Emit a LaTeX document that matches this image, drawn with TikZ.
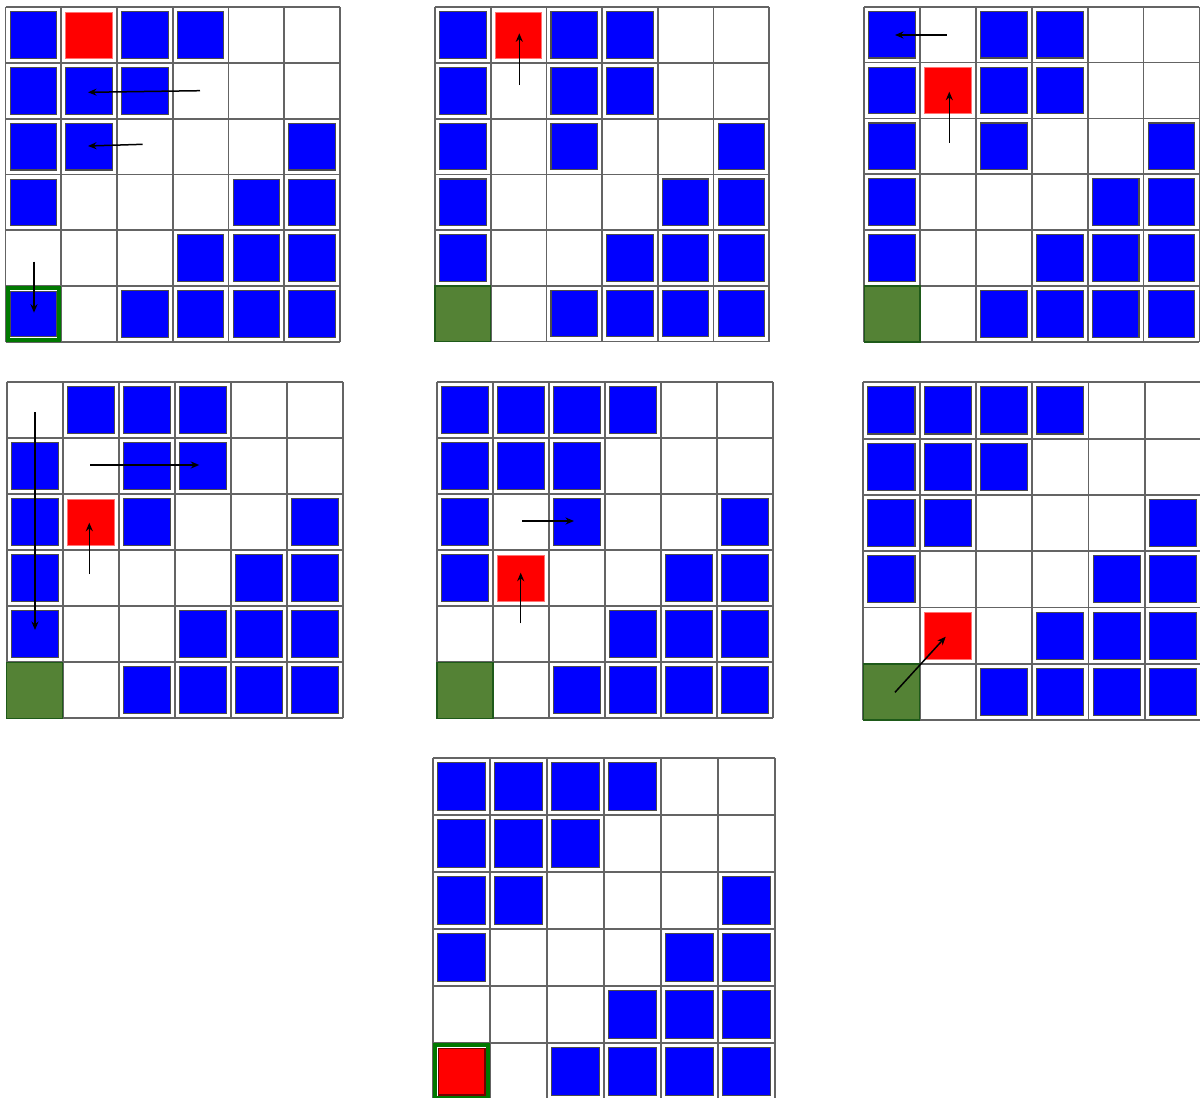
\documentclass[tikz,border=0pt]{standalone}
\usetikzlibrary{arrows.meta}
\definecolor{sqblue}{RGB}{0,0,255}
\definecolor{goalfill}{RGB}{84,130,53}
\definecolor{goaledge}{RGB}{30,90,25}
\definecolor{ringgreen}{RGB}{0,120,0}
\definecolor{gridc}{RGB}{100,100,100}
\newcommand{\cellsz}{56}
\newcommand{\insz}{4.6}
\tikzset{
  x=1pt, y=-1pt,
  gridline/.style={draw=gridc, line width=1.8pt},
  bluesq/.style={fill=sqblue, draw=black!70, line width=1.1pt},
  redsq/.style={fill=red, draw=red!55!white, line width=0.8pt},
  redsqdark/.style={fill=red, draw=black!55!red, line width=1.2pt},
  goalcell/.style={fill=goalfill, draw=goaledge, line width=1.4pt},
  goalring/.style={draw=ringgreen, line width=4pt},
  arr/.style={draw=black, line width=1.5pt, -{Stealth[length=8.5pt,width=7pt]}},
  pics/cellB/.style={code={\path[bluesq] (\insz,\insz) rectangle (\cellsz-\insz,\cellsz-\insz);}},
  pics/cellR/.style={code={\path[redsq] (\insz,\insz) rectangle (\cellsz-\insz,\cellsz-\insz);}},
  pics/cellW/.style={code={}},
  pics/cellG/.style={code={\path[goalcell] (0,0) rectangle (\cellsz,\cellsz);}},
  pics/cellX/.style={code={\path[goalring] (2,2) rectangle (\cellsz-2,\cellsz-2);
      \path[bluesq] (5.2,5.2) rectangle (\cellsz-5.2,\cellsz-5.2);}},
  pics/cellY/.style={code={\path[goalring] (2,2) rectangle (\cellsz-2,\cellsz-2);
      \path[redsqdark] (5.4,5.4) rectangle (\cellsz-5.4,\cellsz-5.4);}},
}
\newcommand{\gridpanel}[4]{%
  \begin{scope}[shift={(#1,#2)}]
    \renewcommand{\cellsz}{#3}%
    \foreach \i in {0,...,6} {
      \draw[gridline] (\i*\cellsz,0) -- (\i*\cellsz,6*\cellsz);
      \draw[gridline] (0,\i*\cellsz) -- (6*\cellsz,\i*\cellsz);
    }
    \foreach \rowdata [count=\r from 0] in {#4} {
      \foreach \c [count=\k from 0] in \rowdata {
        \pic at (\k*\cellsz,\r*\cellsz) {cell\c};
      }
    }
  \end{scope}}
\begin{document}
\begin{tikzpicture}
\fill[white] (0,0) rectangle (1200,1098);
\useasboundingbox (0,0) rectangle (1200,1098);

% panel 1
\gridpanel{5.5}{7.3}{55.75}{{B,R,B,B,W,W},{B,B,B,W,W,W},{B,B,W,W,W,B},{B,W,W,W,B,B},{W,W,W,B,B,B},{X,W,B,B,B,B}}
% panel 2
\gridpanel{435}{7.3}{55.7}{{B,R,B,B,W,W},{B,W,B,B,W,W},{B,W,B,W,W,B},{B,W,W,W,B,B},{B,W,W,B,B,B},{G,W,B,B,B,B}}
% panel 3
\gridpanel{864.3}{6.7}{55.85}{{B,W,B,B,W,W},{B,R,B,B,W,W},{B,W,B,W,W,B},{B,W,W,W,B,B},{B,W,W,B,B,B},{G,W,B,B,B,B}}
% panel 4
\gridpanel{6.7}{382.3}{56}{{W,B,B,B,W,W},{B,W,B,B,W,W},{B,R,B,W,W,B},{B,W,W,W,B,B},{B,W,W,B,B,B},{G,W,B,B,B,B}}
% panel 5
\gridpanel{437}{382.3}{56}{{B,B,B,B,W,W},{B,B,B,W,W,W},{B,W,B,W,W,B},{B,R,W,W,B,B},{W,W,W,B,B,B},{G,W,B,B,B,B}}
% panel 6
\gridpanel{863.3}{382.3}{56.3}{{B,B,B,B,W,W},{B,B,B,W,W,W},{B,B,W,W,W,B},{B,W,W,W,B,B},{W,R,W,B,B,B},{G,W,B,B,B,B}}
% panel 7
\gridpanel{433.3}{758.3}{57}{{B,B,B,B,W,W},{B,B,B,W,W,W},{B,B,W,W,W,B},{B,W,W,W,B,B},{W,W,W,B,B,B},{Y,W,B,B,B,B}}

% arrow end points
\coordinate (a1s) at (200,90.7);   \coordinate (a1e) at (88,92.3);
\coordinate (a2s) at (142.7,144.3); \coordinate (a2e) at (88,146);
\coordinate (a3s) at (34,261.7);   \coordinate (a3e) at (34,312.7);
\coordinate (b1s) at (519.3,85);   \coordinate (b1e) at (519.3,33.3);
\coordinate (c1s) at (946.7,35);   \coordinate (c1e) at (895,35);
\coordinate (c2s) at (949.3,142.7); \coordinate (c2e) at (949.3,91.7);
\coordinate (d1s) at (35,412.3);   \coordinate (d1e) at (35,630);
\coordinate (d2s) at (90,465);     \coordinate (d2e) at (199.3,465);
\coordinate (d3s) at (89.3,574);   \coordinate (d3e) at (89.3,522.7);
\coordinate (e1s) at (522.3,521);  \coordinate (e1e) at (574,521);
\coordinate (e2s) at (520.7,623.3); \coordinate (e2e) at (520.7,572.7);
\coordinate (f1s) at (895,692.3);  \coordinate (f1e) at (945.7,636.7);

\foreach \a in {a1,a2,a3,b1,c1,c2,d1,d2,d3,e1,e2,f1}
  \draw[arr] (\a s) -- (\a e);
\end{tikzpicture}
\end{document}
